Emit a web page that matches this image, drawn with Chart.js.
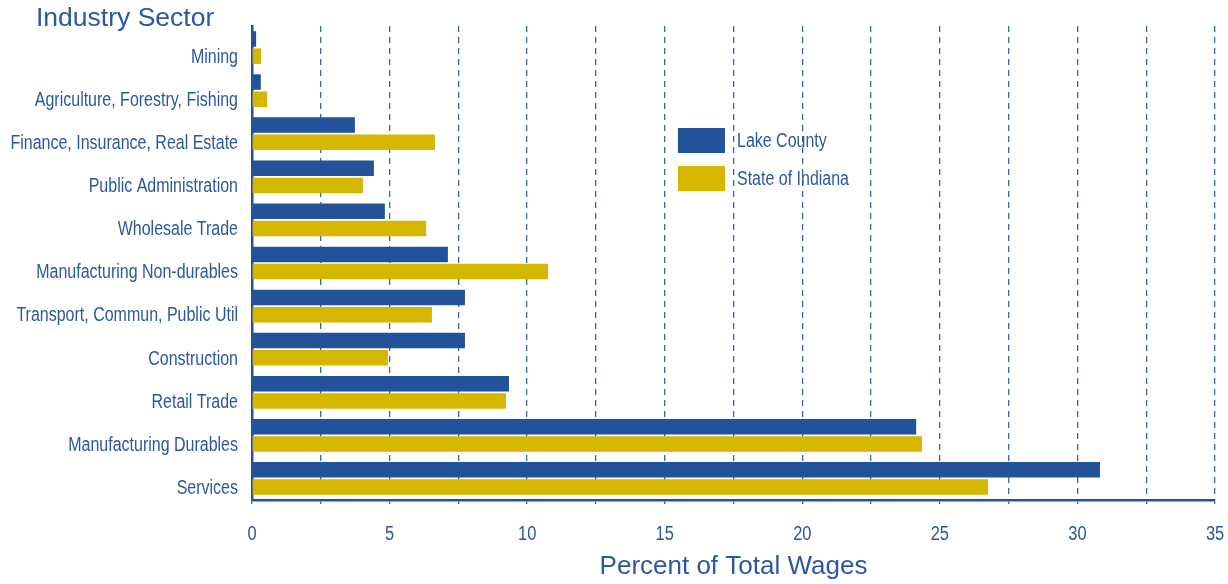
<!DOCTYPE html>
<html>
<head>
<meta charset="utf-8">
<style>
  html, body { margin: 0; padding: 0; background: #ffffff; }
  #wrap { position: relative; width: 1228px; height: 584px; }
</style>
<script src="https://cdn.jsdelivr.net/npm/chart.js@4/dist/chart.umd.min.js"></script>
</head>
<body>
<div id="wrap"><canvas id="c" width="1228" height="584"></canvas></div>
<script>
const categories = [
  "Mining",
  "Agriculture, Forestry, Fishing",
  "Finance, Insurance, Real Estate",
  "Public Administration",
  "Wholesale Trade",
  "Manufacturing Non-durables",
  "Transport, Commun, Public Util",
  "Construction",
  "Retail Trade",
  "Manufacturing Durables",
  "Services"
];
const lakeCounty = [0.15, 0.32, 3.74, 4.43, 4.83, 7.12, 7.74, 7.74, 9.34, 24.14, 30.82];
const stateOfIndiana = [0.33, 0.55, 6.65, 4.03, 6.33, 10.76, 6.54, 4.94, 9.23, 24.35, 26.75];
const seriesNames = ["Lake County", "State of Indiana"];
const xMin = 0, xMax = 35, xStep = 2.5, labelEvery = 5;
const yTitle = "Industry Sector";
const xTitle = "Percent of Total Wages";

const BLUE = '#22539a';
const GOLD = '#d6b700';
const TEXT = '#2b58a0';
const NARROW = '"Liberation Sans Narrow", "Arial Narrow", "Liberation Sans", Arial, sans-serif';
const SANS = '"Liberation Sans", Arial, sans-serif';
const SQUEEZE = 0.82; // horizontal condensing to imitate a narrow face

function condensedFill(ctx, text, x, y, factor) {
  ctx.save();
  ctx.translate(x, y);
  ctx.scale(factor, 1);
  CanvasRenderingContext2D.prototype.fillText.call(ctx, text, 0, 0);
  ctx.restore();
}

function condenseScale(scale, factor) {
  if (scale._condensed) return;
  scale._condensed = true;
  const orig = scale.drawLabels;
  scale.drawLabels = function (area) {
    const ctx = this.ctx;
    ctx.fillText = function (t, x, y) { condensedFill(ctx, t, x, y, factor); };
    try { orig.call(this, area); } finally { delete ctx.fillText; }
  };
}

const overlay = {
  id: 'overlay',
  beforeDraw(chart) {
    condenseScale(chart.scales.x, SQUEEZE);
    condenseScale(chart.scales.y, SQUEEZE);
  },
  afterDraw(chart) {
    const ctx = chart.ctx;
    ctx.save();
    ctx.fillStyle = TEXT;
    ctx.font = '26.5px ' + SANS;
    ctx.textAlign = 'left';
    ctx.textBaseline = 'middle';
    ctx.fillText(yTitle, 36, 19);
    const ds = chart.data.datasets;
    const bx = 678, bw = 47, bh = 25;
    const tops = [128, 166];
    ctx.font = '19.5px ' + NARROW;
    ds.forEach((d, i) => {
      ctx.fillStyle = d.backgroundColor;
      ctx.fillRect(bx, tops[i], bw, bh);
      ctx.fillStyle = TEXT;
      condensedFill(ctx, d.label, 737, tops[i] + bh / 2 + 1, SQUEEZE);
    });
    ctx.restore();
  }
};

new Chart(document.getElementById('c'), {
  type: 'bar',
  data: {
    labels: categories,
    datasets: [
      { label: seriesNames[0], data: lakeCounty, backgroundColor: BLUE,
        categoryPercentage: 0.8, barPercentage: 0.9 },
      { label: seriesNames[1], data: stateOfIndiana, backgroundColor: GOLD,
        categoryPercentage: 0.8, barPercentage: 0.9 }
    ]
  },
  options: {
    indexAxis: 'y',
    responsive: false,
    animation: false,
    devicePixelRatio: 1,
    layout: { padding: { top: 26, right: 13, left: 0, bottom: 0 } },
    plugins: {
      legend: { display: false },
      title: { display: false },
      tooltip: { enabled: false }
    },
    scales: {
      x: {
        type: 'linear',
        position: 'bottom',
        min: xMin, max: xMax,
        afterFit(scale) {
          scale.height = 84;
          scale.paddingLeft = 0; scale.paddingRight = 0;
        },
        ticks: {
          stepSize: xStep,
          autoSkip: false,
          maxRotation: 0,
          color: TEXT,
          font: { family: NARROW, size: 20 },
          padding: 18,
          callback: (v) => (Math.abs(v % labelEvery) < 1e-9 ? String(v) : '')
        },
        grid: {
          color: '#3a64a8',
          lineWidth: 1.3,
          drawTicks: true,
          tickLength: 4,
          tickColor: '#3a64a8'
        },
        border: { display: true, color: BLUE, width: 2.5, dash: [6, 5] },
        title: {
          display: true,
          text: xTitle,
          color: TEXT,
          font: { family: SANS, size: 26 },
          padding: { top: 0, bottom: 2 }
        }
      },
      y: {
        type: 'category',
        afterFit(scale) {
          scale.width = 252;
          scale.paddingTop = 0; scale.paddingBottom = 0;
        },
        ticks: {
          color: TEXT,
          font: { family: NARROW, size: 19.5 },
          padding: 14,
          labelOffset: 10,
          autoSkip: false
        },
        grid: { display: false, drawTicks: false },
        border: { display: true, color: BLUE, width: 2.5 }
      }
    }
  },
  plugins: [overlay]
});
</script>
</body>
</html>
